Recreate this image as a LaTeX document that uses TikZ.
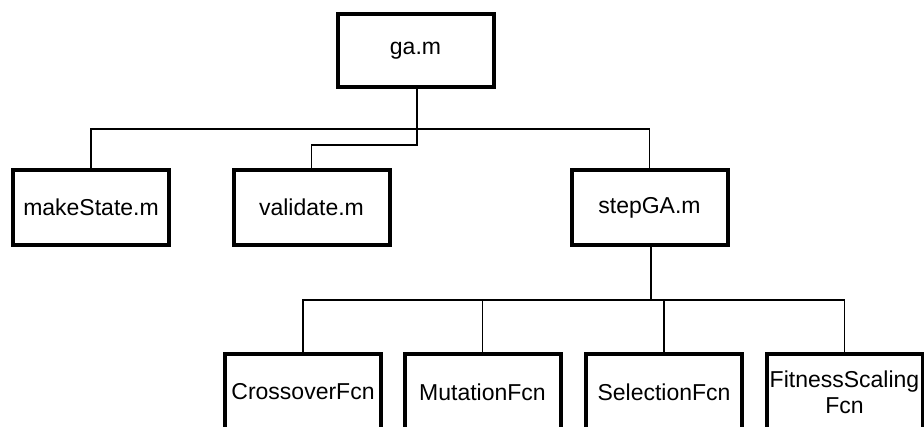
\documentclass[tikz,border=0pt]{standalone}
\usepackage{fontspec}
\setmainfont{Liberation Sans}
\usepackage{tikz}
\usetikzlibrary{positioning, calc}

\begin{document}
\begin{tikzpicture}[x=1pt, y=-1pt,
    font=\fontsize{23}{26}\selectfont,
    modbox/.style={draw, line width=4pt, inner sep=0pt, align=center,
      minimum width=156pt, minimum height=73pt},
    link/.style={line width=1.7pt}]
    \clip (0,0) rectangle (924,427);

    \node[modbox] (ga) at (415.5,51) {ga.m};

    \node[modbox, minimum height=75pt] (make) at (91,207.5) {makeState.m};
    \node[modbox, minimum height=75pt] (valid) at (311.5,207.5) {validate.m};
    \node[modbox, minimum height=75pt] (step) at (649.5,207.5) {stepGA.m};

    \node[modbox, minimum height=75pt] (cross) at (303,392) {CrossoverFcn};
    \node[modbox, minimum height=75pt] (mut) at (482.5,392) {MutationFcn};
    \node[modbox, minimum height=75pt] (sel) at (664,392) {SelectionFcn};
    \node[modbox, minimum height=75pt] (fit) at (844.5,392) {FitnessScaling\\Fcn};

    % first level
    \coordinate (bus1) at (417,129);
    \coordinate (bend) at (417,145);
    \draw[link] (ga.south -| bus1) -- (bend) -| (valid.north);
    \draw[link] (make.north) |- (bus1) -| (step.north);

    % second level
    \coordinate (bus2) at (651,300);
    \draw[link] (step.south -| bus2) -- (bus2);
    \draw[link] (cross.north) |- (bus2) -| (fit.north);
    \draw[link] (mut.north) -- (mut.north |- bus2);
    \draw[link] (sel.north) -- (sel.north |- bus2);
\end{tikzpicture}
\end{document}
